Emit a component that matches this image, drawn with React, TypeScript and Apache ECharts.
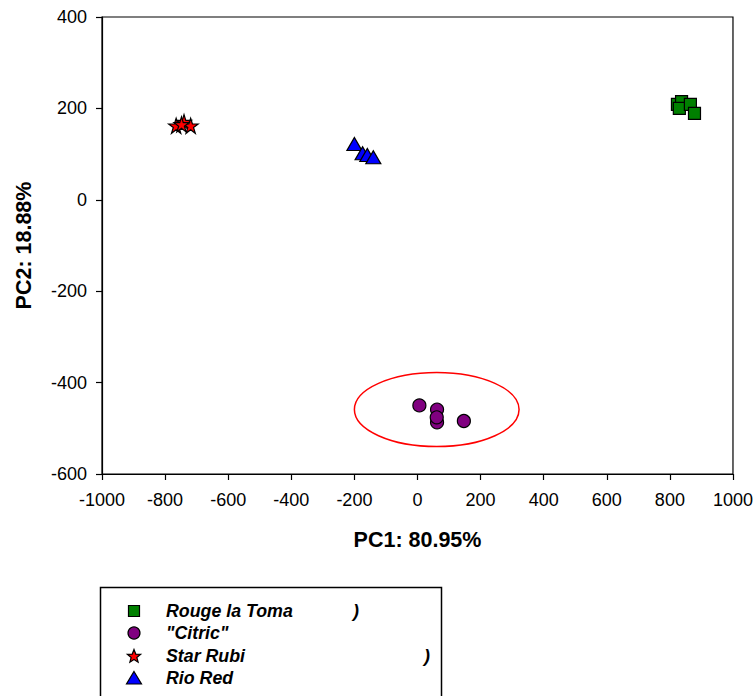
import React, { useEffect, useRef } from "react";
import * as echarts from "echarts";

// ---- Data (PC1, PC2) ----
const rougeLaToma: number[][] = [
  [824, 209],
  [837, 215],
  [830, 200],
  [865, 209],
  [878, 189],
];
const citric: number[][] = [
  [6, -450],
  [62, -459],
  [62, -487],
  [61, -476],
  [147, -484],
];
const starRubi: number[][] = [
  [-765, 162],
  [-740, 170],
  [-719, 162],
  [-748, 165],
];
const rioRed: number[][] = [
  [-200, 122],
  [-174, 102],
  [-159, 98],
  [-140, 93],
];
// ellipse annotation: cx, cy, rx, ry (data units)
const ellipseSpec: number[][] = [[61, -459, 261, 81]];

const seriesNames = ["Rouge la Toma", '"Citric"', "Star Rubi", "Rio Red"];
const seriesColors = ["#008000", "#800080", "#ff0000", "#0000ff"];

const xTicks = { min: -1000, max: 1000, interval: 200 };
const yTicks = { min: -600, max: 400, interval: 200 };

const xTitle = "PC1: 80.95%";
const yTitle = "PC2: 18.88%";

const STAR_PATH =
  "path://M50,0 L61.2,34.5 L97.6,34.5 L68.2,55.9 L79.4,90.5 L50,69.1 L20.6,90.5 L31.8,55.9 L2.4,34.5 L38.8,34.5 Z";

const FONT = "'Liberation Sans', Arial, Helvetica, sans-serif";

function starPoints(cx: number, cy: number, ro: number, ri: number): number[][] {
  const pts: number[][] = [];
  for (let i = 0; i < 10; i++) {
    const r = i % 2 === 0 ? ro : ri;
    const a = -Math.PI / 2 + (i * Math.PI) / 5;
    pts.push([cx + r * Math.cos(a), cy + r * Math.sin(a)]);
  }
  return pts;
}

export default function App() {
  const ref = useRef<HTMLDivElement>(null);
  useEffect(() => {
    if (!ref.current) return;
    const chart = echarts.init(ref.current, null, { renderer: "svg" });

    const legendX = 134;
    const textX = 166;
    const rows = [611, 633, 656, 678];
    const itemFont = `italic bold 17.8px ${FONT}`;
    const stroke = { stroke: "#000", lineWidth: 1.2 };

    const legendGraphics: any[] = [
      {
        type: "rect",
        shape: { x: 100.5, y: 587.5, width: 341, height: 140 },
        style: { fill: "#fff", stroke: "#000", lineWidth: 1.5 },
        z: 10,
      },
      {
        type: "rect",
        shape: { x: legendX - 5.5, y: rows[0] - 5.5, width: 11, height: 11 },
        style: { fill: seriesColors[0], ...stroke },
        z: 11,
      },
      {
        type: "circle",
        shape: { cx: legendX, cy: rows[1], r: 6 },
        style: { fill: seriesColors[1], ...stroke },
        z: 11,
      },
      {
        type: "polygon",
        shape: { points: starPoints(legendX, rows[2] + 0.5, 7, 3) },
        style: { fill: seriesColors[2], ...stroke },
        z: 11,
      },
      {
        type: "polygon",
        shape: {
          points: [
            [legendX, rows[3] - 6.5],
            [legendX + 7.5, rows[3] + 6],
            [legendX - 7.5, rows[3] + 6],
          ],
        },
        style: { fill: seriesColors[3], ...stroke },
        z: 11,
      },
      ...seriesNames.map((n, i) => ({
        type: "text",
        x: textX,
        y: rows[i],
        style: {
          text: n,
          font: itemFont,
          fill: "#000",
          verticalAlign: "middle",
          align: "left",
        },
        z: 11,
      })),
      {
        type: "text",
        x: 353,
        y: rows[0],
        style: { text: ")", font: itemFont, fill: "#000", verticalAlign: "middle" },
        z: 11,
      },
      {
        type: "text",
        x: 424,
        y: rows[2],
        style: { text: ")", font: itemFont, fill: "#000", verticalAlign: "middle" },
        z: 11,
      },
    ];

    const symbolStyle = { borderColor: "#000", borderWidth: 1.2, opacity: 1 };
    const fmt = (v: number) => String(v);

    chart.setOption({
      animation: false,
      backgroundColor: "#fff",
      textStyle: { fontFamily: FONT },
      grid: {
        left: 102,
        top: 17,
        width: 633,
        height: 457,
        show: true,
        borderColor: "#000",
        borderWidth: 1.2,
        backgroundColor: "transparent",
      },
      xAxis: {
        type: "value",
        min: xTicks.min,
        max: xTicks.max,
        interval: xTicks.interval,
        name: xTitle,
        nameLocation: "middle",
        nameGap: 55,
        nameTextStyle: { fontSize: 21.5, fontWeight: "bold", color: "#000", fontFamily: FONT },
        axisLine: { show: true, onZero: false, lineStyle: { color: "#000", width: 1.2 } },
        axisTick: { show: true, inside: false, length: 6, lineStyle: { color: "#000", width: 1.2 } },
        axisLabel: { fontSize: 18, color: "#000", margin: 17, fontFamily: FONT, formatter: fmt },
        splitLine: { show: false },
      },
      yAxis: {
        type: "value",
        min: yTicks.min,
        max: yTicks.max,
        interval: yTicks.interval,
        name: yTitle,
        nameLocation: "middle",
        nameGap: 67,
        nameRotate: 90,
        nameTextStyle: { fontSize: 21.5, fontWeight: "bold", color: "#000", fontFamily: FONT },
        axisLine: { show: true, onZero: false, lineStyle: { color: "#000", width: 1.2 } },
        axisTick: { show: true, inside: false, length: 6, lineStyle: { color: "#000", width: 1.2 } },
        axisLabel: { fontSize: 18, color: "#000", margin: 15, fontFamily: FONT, formatter: fmt },
        splitLine: { show: false },
      },
      series: [
        {
          type: "custom",
          name: "ellipse",
          data: ellipseSpec,
          encode: { x: 0, y: 1 },
          silent: true,
          z: 1,
          renderItem: (_params: any, api: any) => {
            const c = api.coord([api.value(0), api.value(1)]);
            const s = api.size([api.value(2), api.value(3)]);
            return {
              type: "ellipse",
              shape: { cx: c[0], cy: c[1], rx: s[0], ry: s[1] },
              style: { fill: "none", stroke: "#ff0000", lineWidth: 1.5 },
            };
          },
        },
        {
          type: "scatter",
          name: seriesNames[0],
          data: rougeLaToma,
          symbol: "rect",
          symbolSize: 12,
          itemStyle: { color: seriesColors[0], ...symbolStyle },
          z: 3,
        },
        {
          type: "scatter",
          name: seriesNames[1],
          data: citric,
          symbol: "circle",
          symbolSize: 13,
          itemStyle: { color: seriesColors[1], ...symbolStyle },
          z: 3,
        },
        {
          type: "scatter",
          name: seriesNames[2],
          data: starRubi,
          symbol: STAR_PATH,
          symbolSize: 15,
          itemStyle: { color: seriesColors[2], ...symbolStyle },
          z: 3,
        },
        {
          type: "scatter",
          name: seriesNames[3],
          data: rioRed,
          symbol: "triangle",
          symbolSize: [15, 13],
          itemStyle: { color: seriesColors[3], ...symbolStyle },
          z: 3,
        },
      ],
      graphic: legendGraphics,
    });
    return () => chart.dispose();
  }, []);

  return (
    <div
      ref={ref}
      style={{ position: "absolute", left: 0, top: 0, width: 756, height: 696 }}
    />
  );
}
